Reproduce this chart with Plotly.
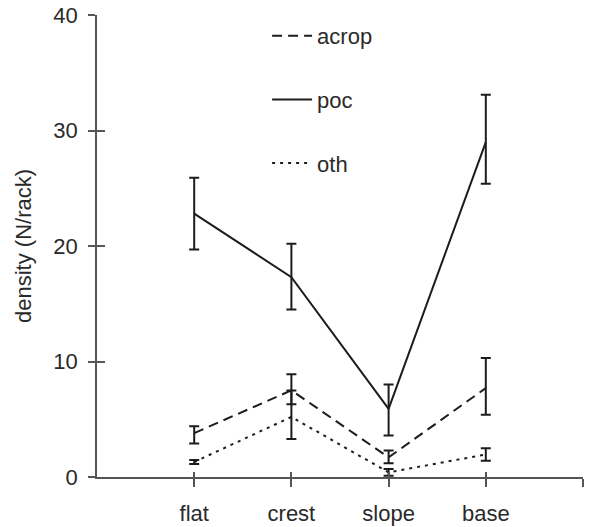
import plotly.graph_objects as go

categories = ["flat", "crest", "slope", "base"]
series_names = ["acrop", "poc", "oth"]

acrop_mean = [3.8, 7.5, 1.7, 7.7]
acrop_err_up = [0.6, 1.4, 0.6, 2.6]
acrop_err_down = [0.9, 1.2, 0.5, 2.3]

poc_mean = [22.8, 17.3, 5.9, 29.0]
poc_err_up = [3.1, 2.9, 2.1, 4.1]
poc_err_down = [3.1, 2.8, 2.3, 3.6]

oth_mean = [1.3, 5.2, 0.4, 1.95]
oth_err_up = [0.17, 2.3, 0.3, 0.55]
oth_err_down = [0.17, 1.9, 0.3, 0.55]

y_ticks = [0, 10, 20, 30, 40]

x_pos = list(range(1, len(categories) + 1))
tick_pos = x_pos + [len(categories) + 1]
tick_text = categories + [""]

INK = "#1c1c1c"
AXIS = "#555555"
TXT = "#2a2a2a"
FONT = dict(family="Liberation Sans, Arial, sans-serif", size=22, color=TXT)

fig = go.Figure()

styles = {
    "acrop": dict(mean=acrop_mean, up=acrop_err_up, dn=acrop_err_down, dash="10px,6px"),
    "poc": dict(mean=poc_mean, up=poc_err_up, dn=poc_err_down, dash="solid"),
    "oth": dict(mean=oth_mean, up=oth_err_up, dn=oth_err_down, dash="3px,5px"),
}

for i, name in enumerate(series_names):
    s = styles[name]
    fig.add_trace(go.Scatter(
        x=x_pos, y=s["mean"], name=name, mode="lines",
        line=dict(color=INK, width=2, dash=s["dash"]),
        error_y=dict(type="data", array=s["up"], arrayminus=s["dn"],
                     color=INK, thickness=2, width=5, symmetric=False),
        legendgroup=name, legendrank=i + 1,
    ))

# invisible trace to host the overlay axes (crossing ticks)
fig.add_trace(go.Scatter(x=[None], y=[None], xaxis="x2", yaxis="y2",
                         showlegend=False, hoverinfo="skip"))

axis_common = dict(showgrid=False, zeroline=False, showline=True, automargin=False,
                   linecolor=AXIS, linewidth=1.5, tickcolor=AXIS, tickwidth=1.5)

fig.update_layout(
    width=590, height=527,
    margin=dict(l=97, r=7, t=15, b=50),
    paper_bgcolor="white", plot_bgcolor="white",
    font=FONT,
    showlegend=True,
    legend=dict(x=0.35, y=1.0, xanchor="left", yanchor="top",
                bgcolor="rgba(0,0,0,0)", tracegroupgap=32,
                font=dict(size=22, color=TXT), itemwidth=40),
    xaxis=dict(range=[0, len(categories) + 1], tickvals=tick_pos, ticktext=tick_text,
               ticks="outside", ticklen=8, ticklabelstandoff=8, **axis_common),
    yaxis=dict(range=[0, 40], tickvals=y_ticks, ticks="outside", ticklen=7,
               ticklabelstandoff=6,
               title=dict(text="density (N/rack)", standoff=16,
                          font=dict(size=22, color=TXT)), **axis_common),
    xaxis2=dict(range=[0, len(categories) + 1], tickvals=tick_pos, overlaying="x",
                anchor="y2", ticks="inside", ticklen=5, showticklabels=False,
                **axis_common),
    yaxis2=dict(range=[0, 40], tickvals=y_ticks, overlaying="y", anchor="x2",
                side="left", ticks="inside", ticklen=8, showticklabels=False,
                **axis_common),
)

fig.write_html("out.html")
